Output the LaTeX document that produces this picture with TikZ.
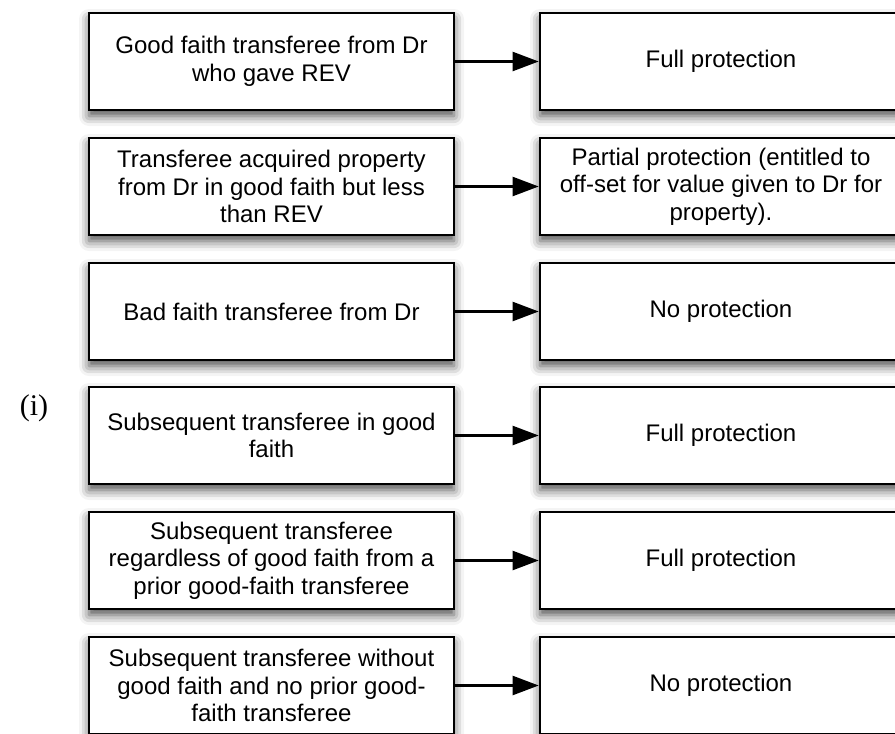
\documentclass[tikz,border=0pt]{standalone}
\usepackage{fontspec}
\setmainfont{Liberation Sans}
\newfontfamily\labelserif{Liberation Serif}
\usetikzlibrary{arrows.meta,shadows.blur}
\begin{document}
\begin{tikzpicture}[x=1pt,y=1pt,
  casebox/.style={draw=black, line width=2.6pt, fill=white,
    minimum height=97pt, inner sep=4pt, align=center,
    font=\fontsize{24}{27.5}\selectfont,
    blur shadow={shadow xshift=0pt, shadow yshift=-6pt,
      shadow blur radius=10pt, shadow opacity=70}},
  leftbox/.style={casebox, minimum width=365pt},
  rightbox/.style={casebox, minimum width=362pt},
  link/.style={-{Triangle[length=26pt,width=19pt]}, line width=2.2pt}]
\useasboundingbox (0,0) rectangle (895,-734);

% transferee categories (left column)
\node[leftbox] (l1) at (271.5,-61.5) {Good faith transferee from Dr\\who gave REV};
\node[leftbox] (l2) at (271.5,-186.5) {Transferee acquired property\\from Dr in good faith but less\\than REV};
\node[leftbox] (l3) at (271.5,-311.5) {Bad faith transferee from Dr};
\node[leftbox] (l4) at (271.5,-435.5) {Subsequent transferee in good\\faith};
\node[leftbox] (l5) at (271.5,-560.5) {Subsequent transferee\\regardless of good faith from a\\prior good-faith transferee};
\node[leftbox] (l6) at (271.5,-685.5) {Subsequent transferee without\\good faith and no prior good-\\faith transferee};

% resulting protection (right column)
\node[rightbox] (r1) at (721,-61.5) {Full protection};
\node[rightbox] (r2) at (721,-186.5) {Partial protection (entitled to\\off-set for value given to Dr for\\property).};
\node[rightbox] (r3) at (721,-311.5) {No protection};
\node[rightbox] (r4) at (721,-435.5) {Full protection};
\node[rightbox] (r5) at (721,-560.5) {Full protection};
\node[rightbox] (r6) at (721,-685.5) {No protection};

\foreach \i in {1,...,6} {
  \draw[link] (l\i.east) -- (r\i.west);
}

\node[font=\labelserif\fontsize{30}{33}\selectfont] (tag) at (34,-408) {(i)};
\end{tikzpicture}
\end{document}
